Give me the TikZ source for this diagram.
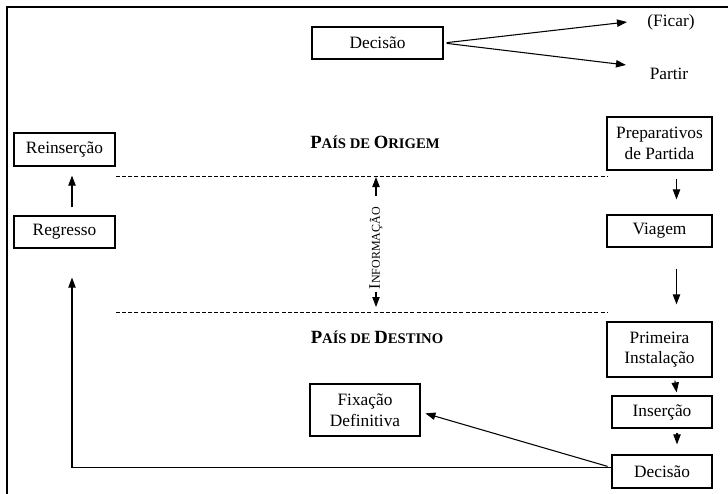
\documentclass[tikz,border=0pt]{standalone}
\usepackage{fontspec}
\setmainfont{Liberation Serif}
\usetikzlibrary{arrows.meta, positioning}

\def\px{0.75pt}
\newcommand{\versalete}[2][11]{{\fontsize{#1}{#1}\selectfont #2}}

\tikzset{
	caixa/.style={draw, line width=0.9pt, align=center, inner sep=0pt, font=\fontsize{13}{15.5}\selectfont},
	rotulo/.style={inner sep=0pt, font=\fontsize{13}{15.5}\selectfont},
	pais/.style={inner sep=0pt, font=\fontsize{14}{16}\selectfont\bfseries},
	seta/.style={-{Triangle[length=7.5pt,width=5.5pt]}, line width=0.8pt},
	fronteira/.style={dash pattern=on 3pt off 1.6pt, line width=0.7pt},
	moldura/.style={line width=1.5pt},
}

\begin{document}
\begin{tikzpicture}[x=0.75pt, y=-0.75pt]
	\useasboundingbox (0,0) rectangle (728,493);
	\clip (0,0) rectangle (728,493);

	\def\xDir{659.5};
	\def\xEsq{64.5};

	% moldura
	\draw[moldura] (7,7) rectangle (745,510);

	% linhas de fronteira
	\coordinate (origemE) at (116,176);
	\coordinate (origemD) at (608,176);
	\coordinate (destinoE) at (116,312);
	\coordinate (destinoD) at (608,312);
	\draw[fronteira] (origemE) -- (origemD);
	\draw[fronteira] (destinoE) -- (destinoD);

	\node[pais] (paisO) at (375,142) {P\versalete{AÍS DE }O\versalete{RIGEM}};
	\node[pais] (paisD) at (377,337) {P\versalete{AÍS DE }D\versalete{ESTINO}};

	\node[inner sep=0pt, rotate=90, font=\fontsize{12}{14}\selectfont] (info) at (376,248) {I\versalete[9]{NFORMAÇÃO}};
	\draw[seta, shorten <=11*\px, shorten >=1*\px] (info.east) -- (info.east |- origemE);
	\draw[seta, shorten <=3*\px, shorten >=5*\px] (info.west) -- (info.west |- destinoE);

	% decisao inicial
	\node[caixa, minimum width=131*\px, minimum height=32*\px] (decisaoA) at (377.5,43) {Decisão};
	\node[rotulo] (ficar) at (671,22) {(Ficar)};
	\node[rotulo] (partir) at (669,74) {Partir};
	\coordinate (pontaF) at (627,22);
	\coordinate (pontaP) at (626,65);
	\draw[seta, shorten <=3*\px] (decisaoA.east) -- (pontaF);
	\draw[seta, shorten <=3*\px] (decisaoA.east) -- (pontaP);

	% percurso
	\begin{scope}[minimum width=105*\px]
		\node[caixa, minimum height=53*\px] (preparativos) at (\xDir,143.5) {Preparativos\\de Partida};
		\node[caixa, minimum height=32*\px] (viagem) at (\xDir,231) {Viagem};
		\node[caixa, minimum height=55*\px] (primeira) at (\xDir,349.5) {Primeira\\Instalação};
	\end{scope}
	\begin{scope}[minimum width=100*\px]
		\node[caixa, minimum height=32*\px] (insercao) at (\xDir+2.5,412) {Inserção};
		\node[caixa, minimum height=33*\px] (decisaoB) at (\xDir+2.5,471.5) {Decisão};
	\end{scope}

	\draw[seta, shorten <=8*\px, shorten >=15*\px] ([xshift=17*\px]preparativos.south) -- ([xshift=17*\px]viagem.north);
	\draw[seta, shorten <=21*\px, shorten >=17*\px] ([xshift=17*\px]viagem.south) -- ([xshift=17*\px]primeira.north);
	\draw[seta, shorten <=3*\px, shorten >=3*\px] ([xshift=15*\px]primeira.south) -- ([xshift=15*\px]insercao.north);
	\draw[seta, shorten <=4*\px, shorten >=10*\px] ([xshift=15*\px]insercao.south) -- ([xshift=15*\px]decisaoB.north);

	% regresso
	\node[caixa, minimum width=101*\px, minimum height=33*\px] (reinsercao) at (\xEsq,149.5) {Reinserção};
	\node[caixa, minimum width=101*\px, minimum height=32*\px] (regresso) at (\xEsq,232) {Regresso};
	\draw[seta, shorten <=8*\px, shorten >=9*\px] ([xshift=7.5*\px]regresso.north) -- ([xshift=7.5*\px]reinsercao.south);
	\draw[seta, shorten >=29*\px] ([yshift=4*\px]decisaoB.west) -| ([xshift=7.5*\px]regresso.south);

	% fixacao
	\node[caixa, minimum width=110*\px, minimum height=52*\px] (fixacao) at (365,410) {Fixação\\Definitiva};
	\draw[seta, shorten <=4*\px, shorten >=5*\px] ([yshift=4*\px]decisaoB.west) -- ([yshift=-2*\px]fixacao.east);
\end{tikzpicture}
\end{document}
